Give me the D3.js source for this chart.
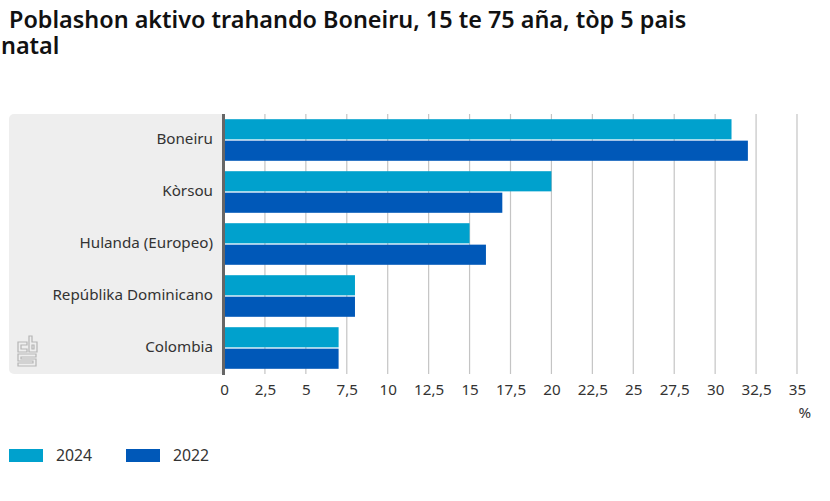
<!DOCTYPE html>
<html>
<head>
<meta charset="utf-8">
<script src="https://cdn.jsdelivr.net/npm/d3@7"></script>
<style>
html, body { margin: 0; padding: 0; background: #fff; }
text { font-family: "Noto Sans", sans-serif; fill: #333; }
</style>
</head>
<body>
<script>
var categories = ["Boneiru", "Kòrsou", "Hulanda (Europeo)", "Repúblika Dominicano", "Colombia"];
var values2024 = [31, 20, 15, 8, 7];
var values2022 = [32, 17, 16, 8, 7];
var seriesNames = ["2024", "2022"];
var seriesColors = ["#00a1cd", "#0058b8"];
var xTicks = [0, 2.5, 5, 7.5, 10, 12.5, 15, 17.5, 20, 22.5, 25, 27.5, 30, 32.5, 35];
var titleLines = ["Poblashon aktivo trahando Boneiru, 15 te 75 aña, tòp 5 pais", "natal"];

var w = 830, h = 501;
var svg = d3.select("body").append("svg").attr("width", w).attr("height", h).style("display", "block");

var x = d3.scaleLinear().domain([0, 35]).range([224, 797]);
var y = d3.scaleBand().domain(categories).range([114, 374]).paddingInner(0.2).paddingOuter(0.1);
var y1 = d3.scaleBand().domain(seriesNames).range([0, y.bandwidth()]).paddingInner(0.06);
var comma = function(d) { return String(d).replace(".", ","); };

// title
svg.selectAll(".title").data(titleLines).enter().append("text")
    .attr("class", "title")
    .attr("x", function(d, i) { return i == 0 ? 9 : 1; })
    .attr("y", function(d, i) { return 28 + i * 26; })
    .attr("font-size", 23.4)
    .attr("font-weight", 600)
    .style("fill", "#111")
    .text(function(d) { return d; });

// grey panel behind the labels
svg.append("path")
    .attr("d", "M224,114H14a5,5 0 0 0 -5,5V369a5,5 0 0 0 5,5H224Z")
    .attr("fill", "#eeeeee");

// grid lines
svg.selectAll(".grid").data(xTicks.slice(1)).enter().append("line")
    .attr("class", "grid")
    .attr("x1", x).attr("x2", x)
    .attr("y1", 114).attr("y2", 374)
    .attr("stroke", "#c4c4c4")
    .attr("stroke-width", 1.2);

// bars
var rows = svg.selectAll(".row").data(categories).enter().append("g")
    .attr("class", "row")
    .attr("transform", function(d) { return "translate(0," + y(d) + ")"; });

[values2024, values2022].forEach(function(vals, s) {
    rows.append("rect")
        .attr("x", x(0))
        .attr("y", y1(seriesNames[s]))
        .attr("width", function(d, i) { return x(vals[i]) - x(0); })
        .attr("height", y1.bandwidth())
        .attr("fill", seriesColors[s]);
});

// axes
var yAxis = d3.axisLeft(y).tickSize(0).tickPadding(11);
var gy = svg.append("g").attr("transform", "translate(" + x(0) + ",-1)").call(yAxis);
gy.select(".domain").remove();
gy.selectAll("text").attr("font-size", 15.2).attr("font-family", null);

var xAxis = d3.axisBottom(x).tickValues(xTicks).tickFormat(comma).tickSize(0).tickPadding(10);
var gx = svg.append("g").attr("transform", "translate(0,374)").call(xAxis);
gx.select(".domain").remove();
gx.selectAll("text").attr("font-size", 15.2).attr("font-family", null);

svg.append("line")
    .attr("x1", 223.5).attr("x2", 223.5)
    .attr("y1", 114).attr("y2", 375)
    .attr("stroke", "#666")
    .attr("stroke-width", 3);

svg.append("text").attr("x", 811).attr("y", 418).attr("text-anchor", "end")
    .attr("font-size", 15.2).text("%");

// legend
var legend = svg.selectAll(".legend").data(seriesNames).enter().append("g")
    .attr("class", "legend")
    .attr("transform", function(d, i) { return "translate(" + (9 + i * 117) + ",449)"; });
legend.append("rect").attr("width", 34).attr("height", 13)
    .attr("fill", function(d, i) { return seriesColors[i]; });
legend.append("text").attr("x", 47).attr("y", 12).attr("font-size", 15.8)
    .text(function(d) { return d; });

// cbs logo
var logo = svg.append("g").attr("fill", "none").attr("stroke", "#b5b5b5").attr("stroke-width", 1.2);
logo.append("path").attr("d", "M27,342H18V352H27V349H21V345H27Z");
logo.append("path").attr("d", "M29,336H32V342H37V352H29Z M32,345H34V349H32Z");
logo.append("path").attr("d", "M36,354H18V361H33V363H18V366H36V359H21V357H36Z");
</script>
</body>
</html>
